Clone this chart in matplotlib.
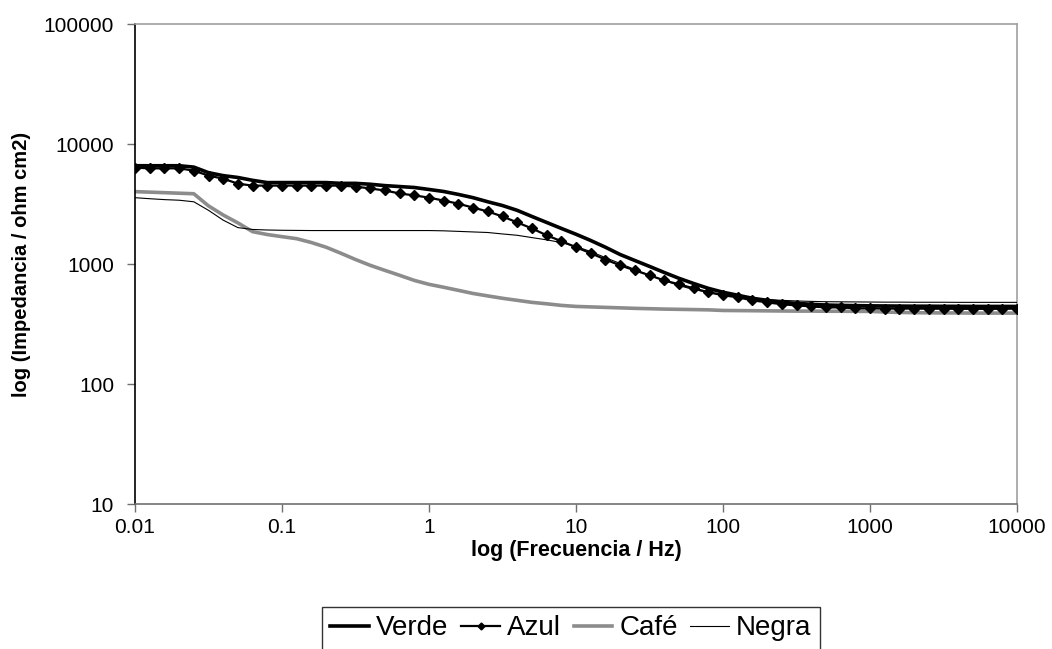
import numpy as np
import matplotlib
matplotlib.use("Agg")
import matplotlib.pyplot as plt

plt.rcParams['font.family'] = ['Liberation Sans', 'DejaVu Sans']

# Frequency grid: 10 points per decade, 0.01 Hz to 10 kHz
freq = 10 ** (np.arange(-20, 41) / 10.0)

verde = [6590, 6590, 6590, 6590, 6420, 5770, 5450, 5260, 4980, 4770,
         4770, 4770, 4770, 4770, 4700, 4700, 4620, 4500, 4420, 4340,
         4180, 4020, 3800, 3570, 3300, 3070, 2800, 2490, 2220, 1980,
         1770, 1570, 1380, 1200, 1070, 955, 850, 760, 688, 627,
         582, 549, 518, 498, 479, 470, 462, 455, 452, 450,
         448, 447, 446, 445, 445, 444, 444, 443, 443, 443, 443]

azul = [6350, 6270, 6270, 6270, 6000, 5450, 5140, 4670, 4500, 4500,
        4500, 4500, 4500, 4500, 4500, 4420, 4260, 4100, 3870, 3730,
        3573, 3375, 3180, 2950, 2740, 2490, 2220, 1980, 1735, 1550,
        1380, 1230, 1090, 975, 885, 805, 730, 677, 627, 582,
        549, 528, 498, 479, 462, 452, 443, 435, 435, 427,
        427, 425, 425, 425, 424, 424, 423, 423, 423, 423, 425]

cafe = [4010, 3970, 3930, 3890, 3850, 3050, 2560, 2200, 1860, 1760,
        1690, 1625, 1510, 1380, 1230, 1090, 975, 885, 805, 730,
        677, 640, 603, 568, 542, 518, 498, 479, 466, 452,
        443, 439, 435, 431, 427, 424, 421, 419, 417, 415,
        410, 409, 408, 407, 406, 405, 405, 404, 404, 403,
        403, 398, 395, 393, 392, 391, 391, 390, 390, 390, 390]

negra = [3570, 3500, 3440, 3400, 3300, 2800, 2320, 2010, 1940, 1920,
         1910, 1905, 1900, 1900, 1900, 1900, 1900, 1900, 1900, 1900,
         1900, 1890, 1870, 1850, 1830, 1780, 1735, 1660, 1590, 1510,
         1400, 1270, 1130, 1010, 900, 805, 730, 662, 612, 582,
         560, 538, 520, 505, 498, 492, 488, 485, 484, 483,
         482, 481, 481, 480, 480, 480, 479, 479, 479, 479, 479]

x_ticks = [0.01, 0.1, 1, 10, 100, 1000, 10000]
x_tick_labels = ["0.01", "0.1", "1", "10", "100", "1000", "10000"]
y_ticks = [10, 100, 1000, 10000, 100000]
y_tick_labels = ["10", "100", "1000", "10000", "100000"]

fig = plt.figure(figsize=(10.52, 6.49), dpi=100)
ax = fig.add_axes([135 / 1052, 1 - 504 / 649, (1017 - 135) / 1052, (504 - 24) / 649])

ax.plot(freq, verde, color='black', lw=2.6, label='Verde', zorder=3)
ax.plot(freq, azul, color='black', lw=1.6, marker='D', ms=5,
        markeredgewidth=1.0, label='Azul', zorder=4)
ax.plot(freq, cafe, color='#8c8c8c', lw=2.6, label='Café', zorder=2)
ax.plot(freq, negra, color='black', lw=0.8, label='Negra', zorder=3)

ax.set_xscale('log')
ax.set_yscale('log')
ax.set_xlim(0.01, 10000)
ax.set_ylim(10, 100000)
ax.set_xticks(x_ticks)
ax.set_xticklabels(x_tick_labels)
ax.set_yticks(y_ticks)
ax.set_yticklabels(y_tick_labels)
ax.minorticks_off()

ax.spines['left'].set_color('black')
ax.spines['bottom'].set_color('#707070')
ax.spines['top'].set_color('#a0a0a0')
ax.spines['right'].set_color('#a0a0a0')
for s in ax.spines.values():
    s.set_linewidth(1.2)

ax.tick_params(axis='x', direction='out', length=6, width=1, color='#707070',
               labelsize=15, pad=4)
ax.tick_params(axis='y', direction='out', length=6, width=1, color='#707070',
               labelsize=15, pad=9)

ax.set_xlabel('log (Frecuencia / Hz)', fontsize=15.5, fontweight='bold', labelpad=2)
ax.set_ylabel('log (Impedancia / ohm cm2)', fontsize=14.5, fontweight='bold', labelpad=9)

leg = fig.legend(loc='upper center', bbox_to_anchor=(571 / 1052, 1 - 607 / 649),
                 ncol=4, fontsize=20, frameon=True, fancybox=False,
                 handlelength=1.4, handletextpad=0.25, columnspacing=0.45,
                 borderpad=0.3, borderaxespad=0, markerscale=0.7)
leg.get_frame().set_edgecolor('black')
leg.get_frame().set_linewidth(1.0)

fig.savefig('out.png', dpi=100)
